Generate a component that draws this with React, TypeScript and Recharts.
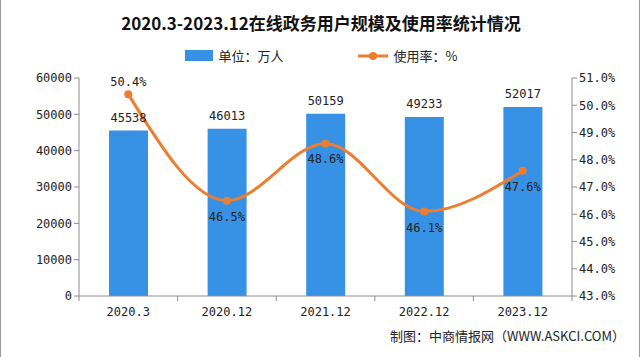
import { ComposedChart, Bar, Line, XAxis, YAxis, LabelList } from "recharts";

const periods = ["2020.3", "2020.12", "2021.12", "2022.12", "2023.12"];
const users = [45538, 46013, 50159, 49233, 52017];
const rates = [50.4, 46.5, 48.6, 46.1, 47.6];
const leftTicks = [0, 10000, 20000, 30000, 40000, 50000, 60000];
const rightTicks = [43, 44, 45, 46, 47, 48, 49, 50, 51];

const data = periods.map((p, i) => ({ period: p, users: users[i], rate: rates[i] }));

const BLUE = "#3792e6";
const ORANGE = "#ee7d2f";
const AXIS = "#8c8c8c";
const FONT = "'DejaVu Sans Mono', 'Noto Sans CJK SC', monospace";
const CJK = "'Noto Sans CJK SC', sans-serif";

const W = 640;
const H = 357;
const PLOT_L = 78;
const PLOT_R = 571;
const BAND = (PLOT_R - PLOT_L) / periods.length;

// category label plus the boundary tick marks
const XTick = (props: any) => {
    const { x, y, payload, index } = props;
    return (
        <g>
            <line x1={x - BAND / 2} x2={x - BAND / 2} y1={y - 8} y2={y - 3} stroke={AXIS} />
            {index === periods.length - 1 && (
                <line x1={x + BAND / 2} x2={x + BAND / 2} y1={y - 8} y2={y - 3} stroke={AXIS} />
            )}
            <text x={x} y={y + 12} textAnchor="middle" fontSize={12} fontFamily={FONT} fill="#222">
                {payload.value}
            </text>
        </g>
    );
};

const RateLabel = (props: any) => {
    const { x, y, value, index } = props;
    const dy = index === 0 ? -8 : 20;
    return (
        <text x={x} y={y + dy} textAnchor="middle" fontSize={12} fontFamily={FONT} fill="#222">
            {value.toFixed(1)}%
        </text>
    );
};

export default function App() {
    return (
        <div
            style={{
                position: "fixed",
                left: 0,
                top: 0,
                width: W,
                height: H,
                background: "#fff",
                boxSizing: "border-box",
                borderLeft: "1px solid #999",
                borderRight: "1px solid #999",
            }}
        >
            <div
                style={{
                    position: "absolute",
                    top: 10,
                    left: 0,
                    width: W,
                    textAlign: "center",
                    fontFamily: CJK,
                    fontWeight: 700,
                    fontSize: 17,
                    color: "#111",
                }}
            >
                2020.3-2023.12在线政务用户规模及使用率统计情况
            </div>
            <div
                style={{
                    position: "absolute",
                    top: 46,
                    left: 0,
                    width: W,
                    display: "flex",
                    justifyContent: "center",
                    alignItems: "center",
                    fontFamily: CJK,
                    fontSize: 13,
                    color: "#222",
                }}
            >
                <span style={{ display: "inline-block", width: 28, height: 11, background: BLUE, marginRight: 6 }} />
                <span style={{ marginRight: 74 }}>单位：万人</span>
                <svg width={30} height={10} style={{ marginRight: 6 }}>
                    <line x1={0} x2={30} y1={5} y2={5} stroke={ORANGE} strokeWidth={3} />
                    <circle cx={15} cy={5} r={4} fill={ORANGE} />
                </svg>
                <span>使用率：%</span>
            </div>
            <ComposedChart
                width={W - 2}
                height={H}
                data={data}
                margin={{ top: 78, right: 0, left: 0, bottom: 31 }}
                style={{ position: "absolute", left: 0, top: 0 }}
            >
                <XAxis
                    dataKey="period"
                    height={30}
                    stroke={AXIS}
                    tickLine={false}
                    tick={<XTick />}
                    interval={0}
                />
                <YAxis
                    yAxisId="left"
                    width={PLOT_L}
                    domain={[0, 60000]}
                    ticks={leftTicks}
                    stroke={AXIS}
                    tickSize={5}
                    tick={{ fill: "#222", fontSize: 12, fontFamily: FONT }}
                />
                <YAxis
                    yAxisId="right"
                    orientation="right"
                    width={W - 2 - PLOT_R}
                    domain={[43, 51]}
                    ticks={rightTicks}
                    stroke={AXIS}
                    tickSize={5}
                    tickFormatter={(v: number) => `${v.toFixed(1)}%`}
                    tick={{ fill: "#222", fontSize: 12, fontFamily: FONT, textAnchor: "start" }}
                />
                <Bar yAxisId="left" dataKey="users" fill={BLUE} barSize={39} isAnimationActive={false}>
                    <LabelList dataKey="users" position="top" offset={9} fill="#222" fontSize={12} fontFamily={FONT} />
                </Bar>
                <Line
                    yAxisId="right"
                    type="monotone"
                    dataKey="rate"
                    stroke={ORANGE}
                    strokeWidth={3}
                    dot={{ r: 4, fill: ORANGE, stroke: ORANGE, strokeWidth: 0 }}
                    isAnimationActive={false}
                >
                    <LabelList dataKey="rate" content={<RateLabel />} />
                </Line>
            </ComposedChart>
            <div
                style={{
                    position: "absolute",
                    right: 14,
                    top: 326,
                    fontFamily: CJK,
                    fontSize: 13,
                    color: "#222",
                }}
            >
                制图：中商情报网（WWW.ASKCI.COM）
            </div>
        </div>
    );
}
